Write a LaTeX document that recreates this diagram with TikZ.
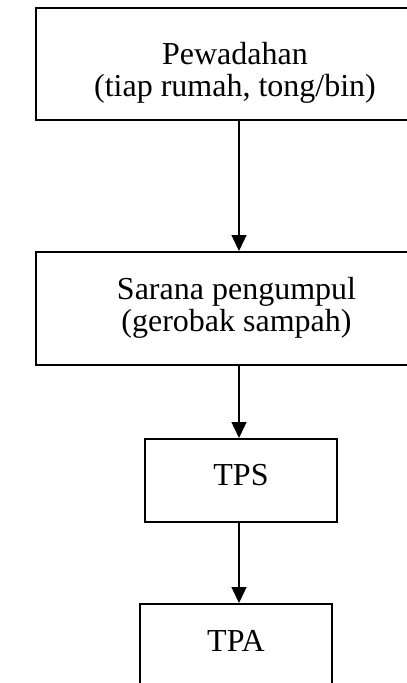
\documentclass[tikz,border=0pt]{standalone}
\usepackage{fontspec}
\setmainfont{Liberation Serif}
\usetikzlibrary{arrows.meta}

\begin{document}
\begin{tikzpicture}[x=0.375pt, y=-0.375pt,
    box/.style={draw, line width=0.75pt, inner sep=0pt},
    boxtext/.style={inner sep=0pt, align=center, font=\fontsize{12}{12}\selectfont},
    flow/.style={-{Triangle[length=6pt, width=5.6pt]}, line width=0.6pt}]
    \useasboundingbox (0,0) rectangle (407,683);
    \clip (0,0) rectangle (407,683);

    % boxes
    \node[box, minimum width=152.25pt, minimum height=42pt] (wadah) at (239,64) {};
    \node[box, minimum width=152.25pt, minimum height=42.375pt] (kumpul) at (239,308.5) {};
    \node[box, minimum width=72pt, minimum height=31.125pt] (tps) at (241,480.5) {};
    \node[box, minimum width=72pt, minimum height=31.125pt] (tpa) at (236,645.5) {};

    % texts
    \node[boxtext] (wadah-txt) at (235,72.5) {Pewadahan\\(tiap rumah, tong/bin)};
    \node[boxtext] (kumpul-txt) at (236.5,307.5) {Sarana pengumpul\\(gerobak sampah)};
    \node[boxtext] (tps-txt) at (241,475.4) {TPS};
    \node[boxtext] (tpa-txt) at (236,641.2) {TPA};

    % arrows
    \coordinate (axis) at (239,0);
    \draw[flow] (axis |- wadah.south) -- (axis |- kumpul.north);
    \draw[flow] (axis |- kumpul.south) -- (axis |- tps.north);
    \draw[flow] (axis |- tps.south) -- (axis |- tpa.north);
\end{tikzpicture}
\end{document}
